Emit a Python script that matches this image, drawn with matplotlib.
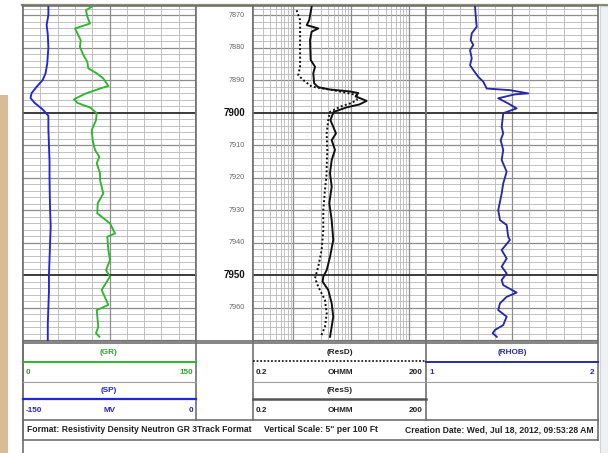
import numpy as np
import matplotlib
matplotlib.use('Agg')
from matplotlib import pyplot as plt
from matplotlib.patches import Rectangle

sp_depth = [7867, 7870, 7873, 7876, 7880, 7885, 7888, 7890, 7892, 7894, 7895.5,
            7897, 7899, 7901, 7905, 7910, 7915, 7920, 7925, 7930, 7935, 7940,
            7945, 7950, 7955, 7960, 7965, 7970]
sp_vals = [-128, -128, -129.5, -128.5, -128, -129, -130.5, -133, -138, -142.5,
           -143.5, -140, -133, -128, -128, -127.5, -127, -127, -126.8, -126.5,
           -126, -126.5, -127, -127.5, -127.5, -128, -128.5, -128.5]

gr_depth = [7867.4, 7868.5, 7870.5, 7872.6, 7873.1, 7874.1, 7875.6, 7877.7,
            7879.8, 7882.3, 7884.4, 7886.4, 7887.9, 7889.5, 7891.8, 7892.6,
            7894.1, 7895.9, 7897.0, 7897.7, 7898.4, 7900.2, 7902.3, 7905.4,
            7908.5, 7911.5, 7913.6, 7915.6, 7918.7, 7920.8, 7924.9, 7927.9,
            7931.0, 7934.1, 7937.2, 7938.2, 7942.3, 7945.4, 7948.5, 7950.5,
            7954.6, 7959.2, 7960.8, 7965.9, 7967.9, 7969.0]
gr_vals = [59.6, 54.6, 55.8, 58.1, 53.8, 45.1, 47.1, 50.0, 49.4, 52.3, 55.8,
           56.6, 63.9, 69.6, 74.0, 66.8, 54.6, 44.2, 47.1, 52.3, 58.1, 63.9,
           63.3, 59.6, 60.4, 62.4, 66.2, 63.9, 66.8, 66.8, 69.6, 64.8, 64.4,
           75.4, 79.8, 73.1, 74.0, 75.4, 72.0, 75.4, 68.2, 74.0, 63.9, 65.3,
           63.3, 66.2]

ress_depth = [7867.4, 7871.5, 7873.1, 7874.1, 7875.1, 7877.7, 7883.8, 7885.9,
              7887.9, 7891.0, 7892.2, 7892.9, 7893.5, 7894.0, 7895.0, 7896.4,
              7897.5, 7898.4, 7899.8, 7902.3, 7904.4, 7906.4, 7908.5, 7911.5,
              7914.6, 7918.7, 7922.8, 7927.9, 7933.1, 7939.2, 7944.4, 7948.5,
              7950.5, 7952.1, 7954.6, 7958.7, 7962.8, 7965.9, 7969.0]
ress_vals = [2.08, 1.89, 1.71, 2.71, 2.08, 1.95, 2.0, 2.38, 2.22, 2.3, 2.71,
             4.3, 9.6, 13.4, 12.0, 18.7, 14.0, 8.4, 5.0, 4.4, 4.93, 5.5, 4.63,
             5.28, 4.63, 4.33, 4.63, 4.21, 4.63, 4.93, 4.33, 3.79, 3.31, 3.23,
             4.04, 4.63, 4.93, 4.63, 4.33]

resd_depth = [7868.5, 7871.5, 7875.6, 7885.9, 7888.5, 7890.0, 7892.0, 7893.1,
              7894.6, 7896.2, 7897.2, 7898.2, 7899.8, 7902.3, 7906.4, 7911.5,
              7916.7, 7918.7, 7923.8, 7930.0, 7936.2, 7942.3, 7947.4, 7951.0,
              7953.6, 7957.7, 7961.8, 7965.9, 7969.0]
resd_vals = [1.14, 1.31, 1.31, 1.31, 1.22, 1.49, 2.08, 4.93, 12.6, 12.6, 9.6,
             6.45, 4.33, 4.04, 3.79, 3.88, 3.79, 3.79, 3.54, 3.31, 3.31, 3.10,
             2.71, 2.38, 2.71, 3.54, 3.79, 3.54, 2.99]

rhob_depth = [7867.4, 7871.5, 7873.6, 7875.6, 7877.7, 7879.2, 7880.8, 7883.3,
              7885.4, 7886.9, 7889.0, 7890.5, 7892.6, 7893.1, 7894.1, 7894.4,
              7895.6, 7897.2, 7898.7, 7900.2, 7904.4, 7906.4, 7908.5, 7911.5,
              7914.6, 7918.2, 7921.8, 7924.9, 7930.0, 7933.1, 7934.6, 7938.2,
              7939.2, 7942.3, 7944.9, 7947.4, 7949.5, 7951.5, 7953.1, 7955.4,
              7956.7, 7958.7, 7960.8, 7962.8, 7965.4, 7966.9, 7967.9, 7969.0]
rhob_vals = [1.285, 1.291, 1.295, 1.266, 1.260, 1.275, 1.256, 1.266, 1.256,
             1.275, 1.304, 1.333, 1.353, 1.488, 1.595, 1.517, 1.420, 1.478,
             1.527, 1.449, 1.440, 1.449, 1.434, 1.449, 1.440, 1.469, 1.449,
             1.440, 1.420, 1.430, 1.469, 1.478, 1.488, 1.440, 1.469, 1.440,
             1.469, 1.440, 1.449, 1.527, 1.469, 1.430, 1.420, 1.469, 1.449,
             1.401, 1.388, 1.411]

depth_labels = list(range(7870, 7961, 10))
depth_top, depth_bot = 7867.2, 7970.3

W, H = 608, 453
fig = plt.figure(figsize=(W / 100, H / 100), dpi=100)
fig.patch.set_facecolor('white')
plt.rcParams['font.family'] = ['Liberation Sans', 'DejaVu Sans']


def box(x0, y0, x1, y1):
    return [x0 / W, 1 - y1 / H, (x1 - x0) / W, (y1 - y0) / H]


frame_c = '#707070'
minor_c = '#b8b8b8'
mid_c = '#8c8c8c'


def setup_track(ax, xlim, log=False):
    if log:
        ax.set_xscale('log')
    ax.set_xlim(*xlim)
    ax.set_ylim(depth_bot, depth_top)
    for d in np.arange(7868, 7971, 2):
        if d % 50 == 0:
            ax.axhline(d, color='#1a1a1a', lw=1.2, zorder=1)
        elif d % 10 == 0:
            ax.axhline(d, color=mid_c, lw=0.9, zorder=0.5)
        else:
            ax.axhline(d, color=minor_c, lw=0.6, zorder=0.5)
    ax.set_xticks([])
    ax.set_yticks([])
    ax.minorticks_off()
    for s in ax.spines.values():
        s.set_color(frame_c)
        s.set_linewidth(1.2)


# track 1: SP + GR
ax1 = fig.add_axes(box(23, 6, 196, 341))
setup_track(ax1, (0, 150))
for i, v in enumerate(np.linspace(0, 150, 11)[1:-1]):
    ax1.axvline(v, color=mid_c if i == 4 else minor_c,
                lw=0.9 if i == 4 else 0.6, zorder=0.5)
ax1.plot(gr_vals, gr_depth, color='#2fb52f', lw=1.35, zorder=3)
ax1b = ax1.twiny()
ax1b.set_xlim(-150, 0)
ax1b.set_ylim(depth_bot, depth_top)
ax1b.axis('off')
ax1b.plot(sp_vals, sp_depth, color='#2424d8', lw=1.35, zorder=3)

# depth track
axd = fig.add_axes(box(196, 6, 253, 341))
axd.set_ylim(depth_bot, depth_top)
axd.set_xticks([])
axd.set_yticks([])
for s in axd.spines.values():
    s.set_color(frame_c)
    s.set_linewidth(1.2)
for d in depth_labels:
    bold = d % 50 == 0
    axd.text(0.86, d, str(d), transform=axd.get_yaxis_transform(),
             ha='right', va='center',
             fontsize=7 if bold else 5.2,
             fontweight='bold' if bold else 'normal',
             color='#111111' if bold else '#666666')

# track 2: resistivity (log)
ax2 = fig.add_axes(box(253, 6, 426, 341))
setup_track(ax2, (0.2, 200), log=True)
minor_logs = [0.3, 0.4, 0.5, 0.6, 0.7, 0.8, 0.9] + \
    [m * 10.0 ** e for e in (0, 1) for m in range(2, 10)]
for v in minor_logs:
    ax2.axvline(v, color=minor_c, lw=0.6, zorder=0.5)
for v in (1, 10, 100):
    ax2.axvline(v, color=mid_c, lw=0.9, zorder=0.5)
ax2.plot(resd_vals, resd_depth, color='#111111', lw=1.4, ls=(0, (1, 1.2)), zorder=3)
ax2.plot(ress_vals, ress_depth, color='#111111', lw=1.4, zorder=3)

# track 3: density
ax3 = fig.add_axes(box(426, 6, 598, 341))
setup_track(ax3, (1, 2))
for i, v in enumerate(np.linspace(1, 2, 11)[1:-1]):
    ax3.axvline(v, color=mid_c if i == 4 else minor_c,
                lw=0.9 if i == 4 else 0.6, zorder=0.5)
ax3.plot(rhob_vals, rhob_depth, color='#2a2aa6', lw=1.35, zorder=3)

# background decorations in pixel coordinates
ov = fig.add_axes([0, 0, 1, 1], zorder=-1)
ov.set_xlim(0, W)
ov.set_ylim(H, 0)
ov.axis('off')
ov.add_patch(Rectangle((0, 95), 8, H - 95, color='#d9bb95', lw=0))
ov.add_patch(Rectangle((600, 6), 8, H - 6, facecolor='#eef0f4',
                       edgecolor='#d0d4dc', lw=0.8))
ov.plot([22, W], [5, 5], color='#8a8a78', lw=1.6)
ov.plot([22.5, 22.5], [5, H], color=frame_c, lw=1.2)

# header boxes and footer
ov2 = fig.add_axes([0, 0, 1, 1])
ov2.set_xlim(0, W)
ov2.set_ylim(H, 0)
ov2.axis('off')
ov2.patch.set_alpha(0)

hk = dict(color=frame_c, lw=1.2)
for y in (343, 420, 440):
    ov2.plot([23, 598], [y, y], **hk)
for x in (23, 196, 253, 426, 598):
    ov2.plot([x, x], [343, 420], **hk)
ov2.plot([23, 23], [420, 440], **hk)
ov2.plot([598, 598], [420, 440], **hk)
for x0, x1 in ((23, 196), (253, 426), (426, 598)):
    ov2.plot([x0, x1], [382, 382], color='#a0a0a0', lw=0.8)

ov2.plot([23, 196], [362, 362], color='#2fb52f', lw=1.4)
ov2.plot([23, 196], [399, 399], color='#2424d8', lw=1.6)
ov2.plot([253, 426], [361, 361], color='#222222', lw=1.3, ls=(0, (1, 1)))
ov2.plot([253, 426], [399, 399], color='#555555', lw=1.8)
ov2.plot([426, 598], [362, 362], color='#2a2aa6', lw=1.4)

tk = dict(fontsize=5.9, fontweight='bold', va='center')
green, blue, navy = '#2ea52e', '#2424c8', '#2a2aa6'
ov2.text(109, 352, '(GR)', color=green, ha='center', **tk)
ov2.text(26, 372, '0', color=green, ha='left', **tk)
ov2.text(193, 372, '150', color=green, ha='right', **tk)
ov2.text(109, 390, '(SP)', color=blue, ha='center', **tk)
ov2.text(26, 410, '-150', color=blue, ha='left', **tk)
ov2.text(109, 410, 'MV', color=blue, ha='center', **tk)
ov2.text(193, 410, '0', color=blue, ha='right', **tk)

ov2.text(340, 352, '(ResD)', color='#222222', ha='center', **tk)
ov2.text(256, 372, '0.2', color='#222222', ha='left', **tk)
ov2.text(340, 372, 'OHMM', color='#222222', ha='center', **tk)
ov2.text(423, 372, '200', color='#222222', ha='right', **tk)
ov2.text(340, 390, '(ResS)', color='#222222', ha='center', **tk)
ov2.text(256, 410, '0.2', color='#222222', ha='left', **tk)
ov2.text(340, 410, 'OHMM', color='#222222', ha='center', **tk)
ov2.text(423, 410, '200', color='#222222', ha='right', **tk)

ov2.text(512, 352, '(RHOB)', color=navy, ha='center', **tk)
ov2.text(430, 372, '1', color=navy, ha='left', **tk)
ov2.text(594, 372, '2', color=navy, ha='right', **tk)

fk = dict(fontsize=6.2, fontweight='bold', va='center', color='#222222')
ov2.text(27, 430, 'Format: Resistivity Density Neutron GR 3Track Format',
         ha='left', **fk)
ov2.text(264, 430, 'Vertical Scale: 5" per 100 Ft', ha='left', **fk)
ov2.text(594, 430, 'Creation Date: Wed, Jul 18, 2012, 09:53:28 AM',
         ha='right', **fk)

plt.savefig('out.png', dpi=100)
